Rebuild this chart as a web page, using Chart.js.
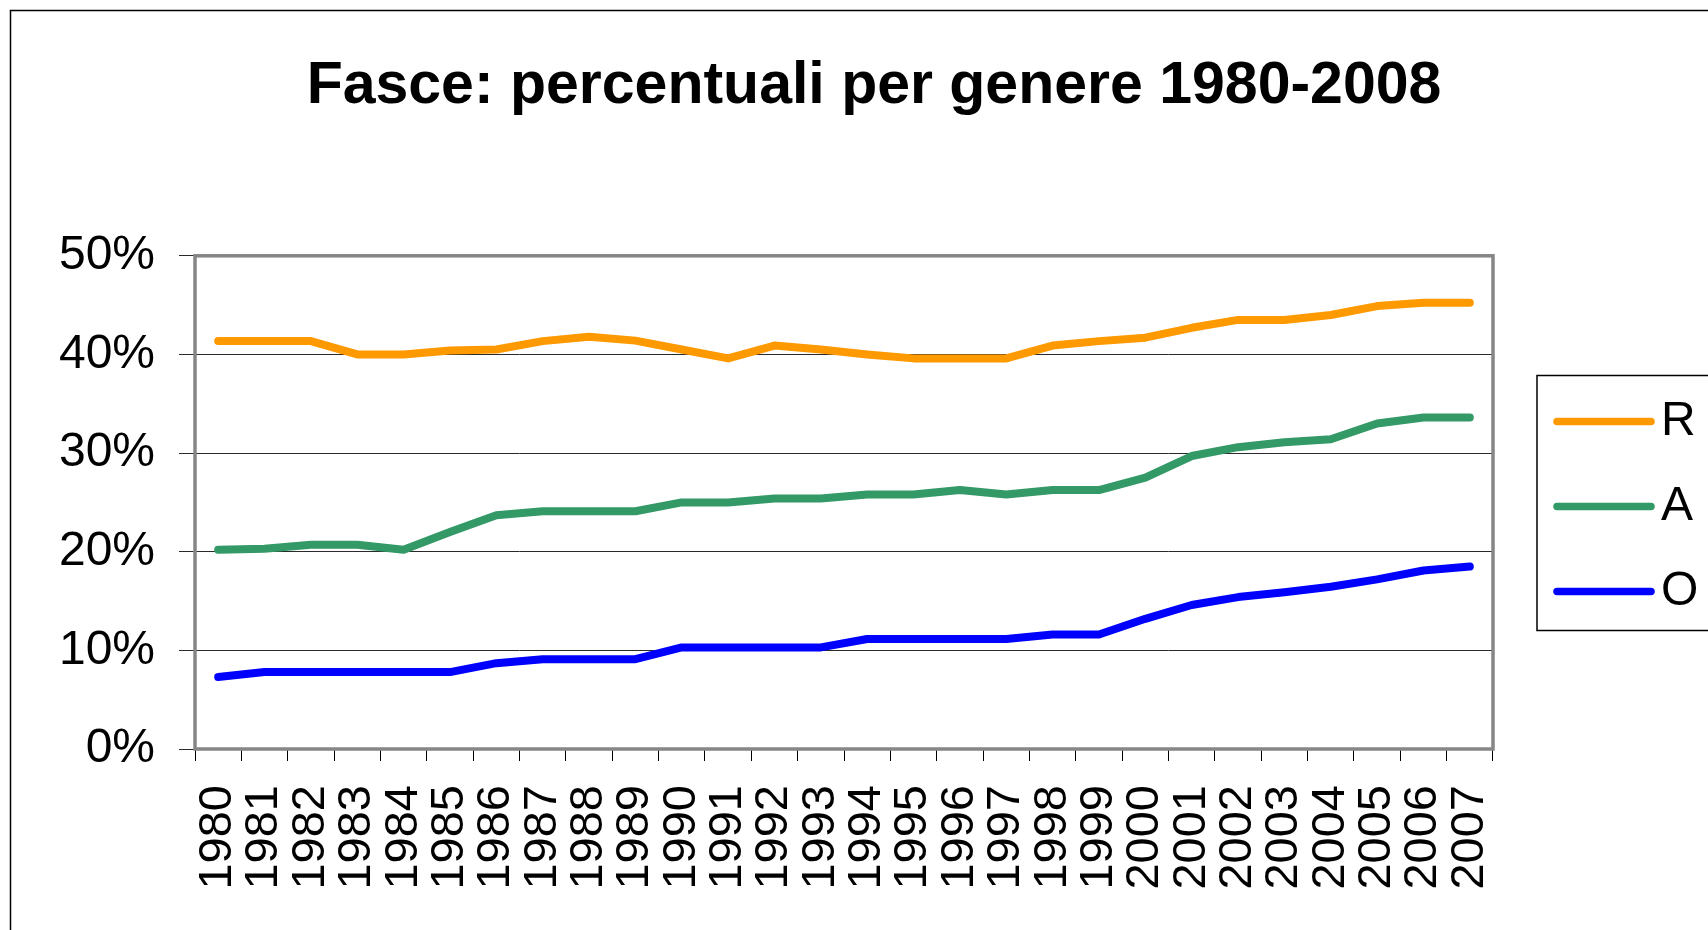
<!DOCTYPE html>
<html>
<head>
<meta charset="utf-8">
<title>Fasce: percentuali per genere 1980-2008</title>
<script src="https://cdn.jsdelivr.net/npm/chart.js@4/dist/chart.umd.min.js"></script>
<style>
    body { margin: 0; background: #fff; }
    #box { position: absolute; left: 0; top: 0; width: 1708px; height: 930px; }
</style>
</head>
<body>
<div id="box"><canvas id="chart" width="1708" height="930"></canvas></div>
<script>
/* Data (percent) */
const years = ["1980","1981","1982","1983","1984","1985","1986","1987","1988","1989",
               "1990","1991","1992","1993","1994","1995","1996","1997","1998","1999",
               "2000","2001","2002","2003","2004","2005","2006","2007"];

const seriesR = [41.35, 41.35, 41.35, 40.0, 40.0, 40.4, 40.5, 41.35, 41.8, 41.4,
                 40.5, 39.6, 40.9, 40.5, 40.0, 39.6, 39.6, 39.6, 40.9, 41.35,
                 41.7, 42.7, 43.5, 43.5, 44.0, 44.9, 45.25, 45.25];
const seriesA = [20.2, 20.3, 20.7, 20.7, 20.2, 22.0, 23.7, 24.1, 24.1, 24.1,
                 25.0, 25.0, 25.4, 25.4, 25.8, 25.8, 26.25, 25.8, 26.25, 26.25,
                 27.5, 29.7, 30.6, 31.1, 31.4, 33.0, 33.6, 33.6];
const seriesO = [7.3, 7.8, 7.8, 7.8, 7.8, 7.8, 8.7, 9.1, 9.1, 9.1,
                 10.3, 10.3, 10.3, 10.3, 11.15, 11.15, 11.15, 11.15, 11.6, 11.6,
                 13.2, 14.6, 15.4, 15.9, 16.45, 17.2, 18.1, 18.5];

const yTicks = [0, 10, 20, 30, 40, 50];

const FONT = "'Liberation Sans', Arial, sans-serif";

/* outer frame, plot frame and legend box */
const framePlugin = {
    id: "frames",
    beforeDraw(chart) {
        const c = chart.ctx;
        c.save();
        c.fillStyle = "#fff";
        c.fillRect(0, 0, chart.width, chart.height);
        c.strokeStyle = "#000";
        c.lineWidth = 1.5;
        c.strokeRect(10.5, 10.5, 2000, 2000);
        c.restore();
    },
    beforeDatasetsDraw(chart) {
        const a = chart.chartArea;
        const c = chart.ctx;
        c.save();
        c.strokeStyle = "#868686";
        c.lineWidth = 3.5;
        c.strokeRect(a.left, a.top, a.right - a.left, a.bottom - a.top);
        c.restore();
    },
    afterDraw(chart) {
        const c = chart.ctx;
        c.save();
        c.strokeStyle = "#000";
        c.lineWidth = 1.5;
        c.strokeRect(1537, 375.5, 400, 255);
        chart.data.datasets.forEach((ds, i) => {
            const y = 421.5 + 85 * i;
            c.strokeStyle = ds.borderColor;
            c.lineWidth = 7.5;
            c.lineCap = "round";
            c.beginPath();
            c.moveTo(1557, y);
            c.lineTo(1651, y);
            c.stroke();
            c.fillStyle = "#000";
            c.font = "48px " + FONT;
            c.textBaseline = "alphabetic";
            c.fillText(ds.label, 1661, y + 13);
        });
        c.restore();
    }
};

new Chart(document.getElementById("chart"), {
    type: "line",
    data: {
        labels: years,
        datasets: [
            { label: "R", data: seriesR, borderColor: "#FF9900" },
            { label: "A", data: seriesA, borderColor: "#339966" },
            { label: "O", data: seriesO, borderColor: "#0000FF" }
        ]
    },
    options: {
        responsive: false,
        animation: false,
        layout: { padding: { left: 40, right: 0, top: 0, bottom: 0 } },
        elements: {
            line: { borderWidth: 8, tension: 0, borderCapStyle: "round", borderJoinStyle: "round", fill: false },
            point: { radius: 0, hoverRadius: 0 }
        },
        plugins: {
            legend: { display: false },
            tooltip: { enabled: false },
            title: {
                display: true,
                text: "Fasce: percentuali per genere 1980-2008",
                color: "#000",
                font: { family: FONT, size: 59, weight: "bold" },
                padding: { top: 51, bottom: 134 }
            }
        },
        scales: {
            x: {
                offset: true,
                grid: { offset: true, drawOnChartArea: false, color: "#000", lineWidth: 1, tickLength: 12 },
                border: { display: false },
                ticks: {
                    autoSkip: false, maxRotation: 90, minRotation: 90, padding: 24,
                    color: "#000", font: { family: FONT, size: 47 }
                },
                afterFit: s => { s.height = 181; }
            },
            y: {
                min: 0,
                max: 50,
                afterBuildTicks: s => { s.ticks = yTicks.map(v => ({ value: v })); },
                grid: { color: "#2a2a2a", lineWidth: 1, tickLength: 16 },
                border: { display: false },
                ticks: {
                    padding: 24, labelOffset: 0,
                    color: "#000", font: { family: FONT, size: 48 },
                    callback: v => v + "%"
                },
                afterFit: s => { s.width = 155; }
            },
            y2: {
                position: "right",
                grid: { display: false },
                border: { display: false },
                ticks: { display: false },
                afterFit: s => { s.width = 215; }
            }
        }
    },
    plugins: [framePlugin]
});
</script>
</body>
</html>
